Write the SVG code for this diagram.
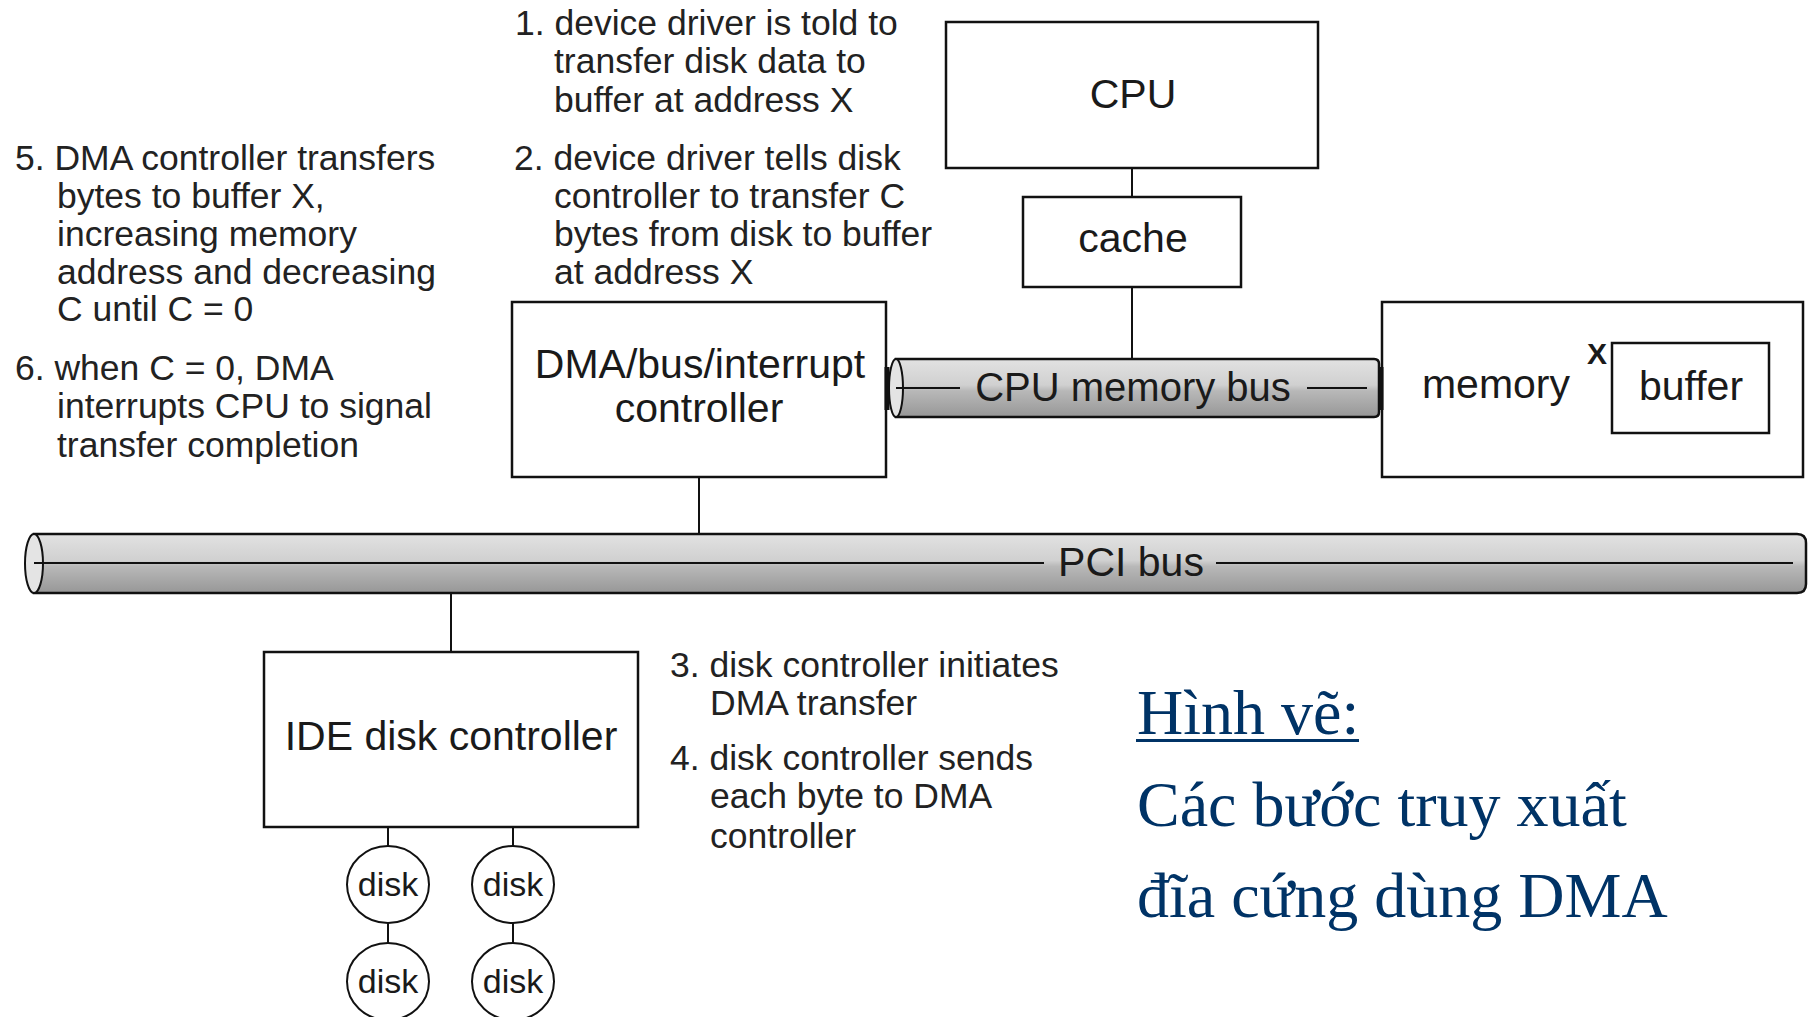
<svg xmlns="http://www.w3.org/2000/svg" width="1814" height="1017" viewBox="0 0 1814 1017">
<defs>
<style>
.box{fill:#fff;stroke:#111;stroke-width:2.5}
.ln{stroke:#111;stroke-width:2;fill:none}
.lbl{font-family:"Liberation Sans",Arial,sans-serif;font-size:41px;fill:#1a1a1a;text-anchor:middle}
.ann{font-family:"Liberation Sans",Arial,sans-serif;font-size:35.5px;fill:#222}
.disk{fill:#fff;stroke:#111;stroke-width:2}
.dl{font-family:"Liberation Sans",Arial,sans-serif;font-size:34px;fill:#1a1a1a;text-anchor:middle}
.tube{fill:url(#tg);stroke:#111;stroke-width:2.5}
.cap{fill:#e4e4e4;stroke:#111;stroke-width:2}
.title{font-family:"Liberation Serif","Times New Roman",serif;font-size:64px;fill:#003366}
</style>
<linearGradient id="tg" x1="0" y1="0" x2="0" y2="1">
<stop offset="0" stop-color="#e2e2e2"/>
<stop offset="0.45" stop-color="#d0d0d0"/>
<stop offset="0.55" stop-color="#b8b8b8"/>
<stop offset="1" stop-color="#979797"/>
</linearGradient>
</defs>
<rect width="1814" height="1017" fill="#fff"/>

<g id="connectors">
<line class="ln" x1="1132" y1="168" x2="1132" y2="197"/>
<line class="ln" x1="1132" y1="287" x2="1132" y2="370"/>
<line class="ln" x1="699" y1="477" x2="699" y2="563"/>
<line class="ln" x1="451" y1="563" x2="451" y2="652"/>
<line class="ln" x1="388" y1="827" x2="388" y2="846"/>
<line class="ln" x1="513" y1="827" x2="513" y2="846"/>
<line class="ln" x1="388" y1="923" x2="388" y2="943"/>
<line class="ln" x1="513" y1="923" x2="513" y2="943"/>
</g>

<g id="pci-bus">
<path class="tube" d="M34,534 H1797 Q1806,534 1806,543 V584 Q1806,593 1797,593 H34 Z"/>
<ellipse class="cap" cx="34" cy="563.5" rx="9" ry="29.5"/>
<line class="ln" x1="34" y1="563" x2="1044" y2="563"/>
<line class="ln" x1="1216" y1="563" x2="1793" y2="563"/>
<text class="lbl" x="1131" y="576">PCI bus</text>
</g>

<g id="cpu">
<rect class="box" x="946" y="22" width="372" height="146"/>
<text class="lbl" x="1133" y="108">CPU</text>
</g>

<g id="cache">
<rect class="box" x="1023" y="197" width="218" height="90"/>
<text class="lbl" x="1133" y="252">cache</text>
</g>

<g id="cpu-memory-bus">
<path class="tube" d="M896,359 H1374 Q1379,359 1379,364 V412 Q1379,417 1374,417 H896 Z"/>
<ellipse class="cap" cx="896" cy="388" rx="7" ry="29"/>
<line class="ln" x1="896" y1="388" x2="960" y2="388"/>
<line class="ln" x1="1307" y1="388" x2="1367" y2="388"/>
<text class="lbl" x="1133" y="401" style="font-size:40px">CPU memory bus</text>
</g>

<g id="dma-controller">
<rect class="box" x="512" y="302" width="374" height="175"/>
<text class="lbl" x="700" y="378">DMA/bus/interrupt</text>
<text class="lbl" x="699" y="422">controller</text>
<line x1="887" y1="367" x2="887" y2="410" stroke="#111" stroke-width="5"/>
</g>

<g id="memory">
<rect class="box" x="1382" y="302" width="421" height="175"/>
<text class="lbl" x="1496" y="398">memory</text>
<text x="1597" y="364" style="font-family:'Liberation Sans',Arial,sans-serif;font-size:30px;font-weight:bold;fill:#1a1a1a;text-anchor:middle">X</text>
<line x1="1381" y1="367" x2="1381" y2="410" stroke="#111" stroke-width="5"/>
</g>

<g id="buffer">
<rect class="box" x="1612" y="343" width="157" height="90"/>
<text class="lbl" x="1691" y="400">buffer</text>
</g>

<g id="ide-controller">
<rect class="box" x="264" y="652" width="374" height="175"/>
<text class="lbl" x="451" y="750">IDE disk controller</text>
</g>

<g id="disk1"><ellipse class="disk" cx="388" cy="884.5" rx="41" ry="38.5"/><text class="dl" x="388" y="896">disk</text></g>
<g id="disk2"><ellipse class="disk" cx="513" cy="884.5" rx="41" ry="38.5"/><text class="dl" x="513" y="896">disk</text></g>
<g id="disk3"><ellipse class="disk" cx="388" cy="981.5" rx="41" ry="38.5"/><text class="dl" x="388" y="993">disk</text></g>
<g id="disk4"><ellipse class="disk" cx="513" cy="981.5" rx="41" ry="38.5"/><text class="dl" x="513" y="993">disk</text></g>

<g id="step1">
<text class="ann" x="515" y="35">1. device driver is told to</text>
<text class="ann" x="554" y="73">transfer disk data to</text>
<text class="ann" x="554" y="112">buffer at address X</text>
</g>
<g id="step2">
<text class="ann" x="514" y="170">2. device driver tells disk</text>
<text class="ann" x="554" y="208">controller to transfer C</text>
<text class="ann" x="554" y="246">bytes from disk to buffer</text>
<text class="ann" x="554" y="284">at address X</text>
</g>
<g id="step5">
<text class="ann" x="15" y="170">5. DMA controller transfers</text>
<text class="ann" x="57" y="208">bytes to buffer X,</text>
<text class="ann" x="57" y="246">increasing memory</text>
<text class="ann" x="57" y="284">address and decreasing</text>
<text class="ann" x="57" y="321">C until C = 0</text>
</g>
<g id="step6">
<text class="ann" x="15" y="380">6. when C = 0, DMA</text>
<text class="ann" x="57" y="418">interrupts CPU to signal</text>
<text class="ann" x="57" y="457">transfer completion</text>
</g>
<g id="step3">
<text class="ann" x="670" y="677">3. disk controller initiates</text>
<text class="ann" x="710" y="715">DMA transfer</text>
</g>
<g id="step4">
<text class="ann" x="670" y="770">4. disk controller sends</text>
<text class="ann" x="710" y="808">each byte to DMA</text>
<text class="ann" x="710" y="848">controller</text>
</g>

<g id="caption">
<text class="title" x="1137" y="734">Hình vẽ:</text>
<rect x="1136" y="739" width="223" height="3" fill="#003366"/>
<text class="title" x="1137" y="826">Các bước truy xuất</text>
<text class="title" x="1137" y="917">đĩa cứng dùng DMA</text>
</g>
</svg>
